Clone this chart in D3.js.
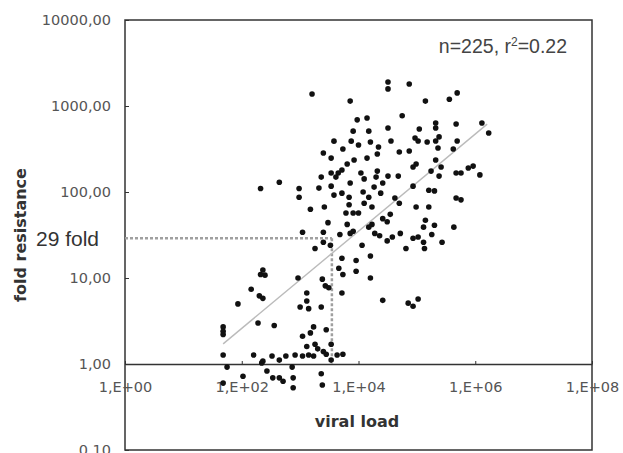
<!DOCTYPE html>
<html>
<head>
<meta charset="utf-8">
<script src="https://cdn.jsdelivr.net/npm/d3@7"></script>
<style>
  body { margin: 0; background: #fff; }
  svg { display: block; }
</style>
</head>
<body>
<div id="chart"></div>
<script>
// viral load (copies) and fold resistance per patient
const viralLoad = [
  2.1e2, 4.4e2, 9.6e2, 9.6e2, 1.5e3, 1.1e3, 1.6e3,
  3.2e4, 3.2e4, 7.2e3, 5.6e4, 9.5e3, 1.4e4, 8.1e3, 1.5e4, 3.2e4,
  3.8e3, 7.5e3, 1.0e4, 1.6e4, 2.2e4, 3.6e4, 5.4e3, 2.1e4, 5.0e4, 2.5e3,
  3.4e3, 8.4e3, 1.4e4, 6.4e3, 5.2e3, 4.5e3, 3.4e3, 1.1e4, 2.1e4, 2.0e4,
  2.3e3, 4.1e3, 1.25e4, 3.2e4, 4.8e4, 2.6e4, 7.2e3, 2.1e3, 3.4e3, 1.85e4,
  5.2e3, 3.8e3, 1.2e4, 2.4e4, 6.9e3, 1.5e4, 4.2e4, 5.0e4, 1.25e4, 6.9e3,
  1.7e4, 2.6e3, 6.1e3, 8.1e3, 1.0e4, 3.5e4, 2.6e4, 3.1e4, 3.0e3, 6.4e3,
  1.7e4, 8.1e3, 2.5e3,
  7.4e4, 4.9e5, 3.6e5, 1.4e5, 1.3e6, 2.1e5, 2.1e5, 4.7e5, 1.1e5, 1.7e6,
  9.3e4, 1.05e5, 1.5e5, 2.1e5, 2.4e5, 4.9e5, 4.2e5, 2.3e5, 7.4e4, 9.7e4,
  8.6e4, 2.6e5, 9.2e5, 7.6e5, 4.7e5, 5.7e5, 1.75e5, 2.4e5, 1.2e6, 8.6e4,
  1.6e5, 2.0e5, 4.7e5, 5.7e5, 9.7e4, 1.6e5, 1.4e5, 2.0e5, 1.3e5, 4.3e5, 2.1e5,
  1.8e3, 2.5e3, 3.3e3, 4.8e3, 7.2e3, 1.15e4, 1.5e4, 1.9e4, 2.3e4, 3.1e4,
  3.8e4, 5.2e4, 6.5e4, 8.6e4, 1.05e5, 1.3e5, 1.35e5, 1.8e5, 2.7e5,
  5.2e3, 9.1e3, 9.1e3, 1.6e4, 4.6e3, 5.4e3, 1.6e4, 2.4e3, 2.7e3, 3.1e3,
  5.2e3, 1.3e3, 1.3e3, 1.4e3, 2.3e3, 2.6e4, 7.1e4, 8.6e4, 1.05e5,
  1.7e3, 1.5e3, 2.8e3, 1.1e3, 3.4e3, 1.3e3, 1.8e3, 2.0e3, 2.5e3, 2.8e3,
  1.1e3, 1.7e3, 4.3e3, 5.4e3, 3.4e3, 2.3e3, 2.4e3, 1.0e3, 1.4e3,
  2.3e2, 2.1e2, 2.5e2, 9.2e2, 1.45e2, 2.0e2, 2.3e2, 86, 48, 48, 48,
  1.9e2, 3.6e2, 48, 1.6e2, 2.3e2, 3.3e2, 4.4e2, 5.7e2, 8.2e2, 2.2e2,
  56, 7.3e2, 1.05e2, 2.7e2, 3.4e2, 4.4e2, 5.1e2, 7.6e2, 7.6e2, 48
];

const foldResistance = [
  110, 130, 110, 87, 63, 34, 1380,
  1900, 1580, 1140, 770, 690, 725, 510, 510, 555,
  390, 390, 352, 381, 333, 392, 316, 277, 292, 284,
  248, 236, 248, 212, 180, 166, 166, 166, 175, 149,
  149, 149, 142, 153, 153, 127, 127, 111, 117, 114,
  97, 92, 100, 97, 87, 87, 85, 74, 74, 71,
  67, 67, 57, 57, 57, 55, 49, 45, 44, 42,
  42, 35, 34,
  1800, 1420, 1200, 1140, 634, 634, 555, 618, 541, 485,
  425, 392, 381, 392, 437, 392, 316, 325, 300, 212,
  195, 195, 200, 190, 166, 166, 175, 153, 158, 117,
  105, 103, 85, 81, 67, 67, 47, 41, 39, 39, 236,
  22, 26, 24, 32, 33, 24, 39, 33, 31, 27,
  30, 33, 22, 29, 30, 26, 22, 32, 26,
  17, 16, 12, 18, 13, 11, 10, 9.7, 8.1, 7.7,
  6.7, 6.7, 5.4, 4.4, 4.6, 5.5, 5.1, 4.7, 5.7,
  2.7, 2.3, 2.5, 2.1, 1.7, 1.6, 1.7, 1.5, 1.4, 1.3,
  1.24, 1.24, 1.27, 1.3, 1.11, 0.77, 0.57, 4.6, 1.27,
  12.4, 11, 10.8, 10, 7.4, 6.2, 5.8, 5.0, 2.7, 2.4, 2.2,
  3.0, 2.8, 1.27, 1.27, 1.08, 1.24, 1.11, 1.24, 1.27, 1.03,
  0.92, 0.92, 0.72, 0.83, 0.69, 0.69, 0.63, 0.69, 0.53, 0.60
];

const xTicks = [1, 1e2, 1e4, 1e6, 1e8];
const xTickLabels = ["1,E+00", "1,E+02", "1,E+04", "1,E+06", "1,E+08"];
const yTicks = [0.1, 1, 10, 100, 1000, 10000];
const yTickLabels = ["0,10", "1,00", "10,00", "100,00", "1000,00", "10000,00"];

// log-log trend line: log10(fold) = intercept + slope * log10(load)
const trendSlope = 0.565;
const trendIntercept = -0.716;
const trendLoadRange = [48, 1.6e6];

// 29-fold cut-off and the viral load where the trend reaches it
const cutoffFold = 29;
const cutoffLoad = 3.5e3;

const statsText = "n=225, r";
const statsTail = "=0.22";

const width = 623, height = 453;
const plot = { left: 125, right: 592, top: 20, bottom: 450 };

const svg = d3.select("#chart").append("svg")
  .attr("width", width)
  .attr("height", height);

const x = d3.scaleLog().domain([1, 1e8]).range([plot.left, plot.right]);
const y = d3.scaleLog().domain([0.1, 1e4]).range([plot.bottom, plot.top]);

const labelFont = "DejaVu Sans, Verdana, sans-serif";

// plot frame
svg.append("rect")
  .attr("x", plot.left)
  .attr("y", plot.top)
  .attr("width", plot.right - plot.left)
  .attr("height", plot.bottom - plot.top)
  .attr("fill", "none")
  .attr("stroke", "#333")
  .attr("stroke-width", 1.5);

// y axis, ticks pointing inside
const yAxis = svg.append("g")
  .attr("transform", `translate(${plot.left},0)`)
  .call(d3.axisLeft(y)
    .tickValues(yTicks)
    .tickFormat((d, i) => yTickLabels[i])
    .tickSizeInner(-4)
    .tickSizeOuter(0)
    .tickPadding(14));
yAxis.select(".domain").remove();
yAxis.selectAll(".tick line").attr("stroke", "#333");
yAxis.selectAll(".tick text")
  .attr("font-family", labelFont)
  .attr("font-size", 14.5)
  .attr("fill", "#555");

// x axis sits on fold = 1
const xAxis = svg.append("g")
  .attr("transform", `translate(0,${y(1)})`)
  .call(d3.axisBottom(x)
    .tickValues(xTicks)
    .tickFormat((d, i) => xTickLabels[i])
    .tickSizeInner(-3)
    .tickSizeOuter(0)
    .tickPadding(18));
xAxis.select(".domain")
  .attr("stroke", "#333")
  .attr("stroke-width", 1.5);
xAxis.selectAll(".tick line").attr("stroke", "#333");
xAxis.selectAll(".tick text")
  .attr("font-family", labelFont)
  .attr("font-size", 14.5)
  .attr("fill", "#555");

// dotted cut-off guides
const guide = svg.append("g")
  .attr("fill", "none")
  .attr("stroke", "#a0a0a0")
  .attr("stroke-width", 2.5)
  .attr("stroke-dasharray", "3,2");
guide.append("line")
  .attr("x1", x(1)).attr("x2", x(cutoffLoad))
  .attr("y1", y(cutoffFold)).attr("y2", y(cutoffFold));
guide.append("line")
  .attr("x1", x(cutoffLoad)).attr("x2", x(cutoffLoad))
  .attr("y1", y(cutoffFold)).attr("y2", y(1));

// trend line
const trend = trendLoadRange.map(v => [v, Math.pow(10, trendIntercept + trendSlope * Math.log10(v))]);
svg.append("path")
  .datum(trend)
  .attr("fill", "none")
  .attr("stroke", "#bbb")
  .attr("stroke-width", 1.4)
  .attr("d", d3.line().x(d => x(d[0])).y(d => y(d[1])));

// patients
svg.append("g")
  .selectAll("circle")
  .data(viralLoad.map((v, i) => ({ load: v, fold: foldResistance[i] })))
  .enter().append("circle")
    .attr("cx", d => x(d.load))
    .attr("cy", d => y(d.fold))
    .attr("r", 2.8)
    .attr("fill", "#111");

// texts
svg.append("text")
  .attr("x", 36)
  .attr("y", 246)
  .attr("font-family", "Liberation Sans, Arial, sans-serif")
  .attr("font-size", 21)
  .attr("fill", "#333")
  .text("29 fold");

const stats = svg.append("text")
  .attr("x", 567)
  .attr("y", 53)
  .attr("text-anchor", "end")
  .attr("font-family", "Liberation Sans, Arial, sans-serif")
  .attr("font-size", 19.5)
  .attr("fill", "#444");
stats.append("tspan").text(statsText);
stats.append("tspan").attr("font-size", 12).attr("dy", -7).text("2");
stats.append("tspan").attr("dy", 7).text(statsTail);

svg.append("text")
  .attr("x", 357)
  .attr("y", 427)
  .attr("text-anchor", "middle")
  .attr("font-family", labelFont)
  .attr("font-weight", "bold")
  .attr("font-size", 16)
  .attr("fill", "#333")
  .text("viral load");

svg.append("text")
  .attr("transform", "translate(26,235) rotate(-90)")
  .attr("text-anchor", "middle")
  .attr("font-family", labelFont)
  .attr("font-weight", "bold")
  .attr("font-size", 16)
  .attr("fill", "#333")
  .text("fold resistance");
</script>
</body>
</html>
